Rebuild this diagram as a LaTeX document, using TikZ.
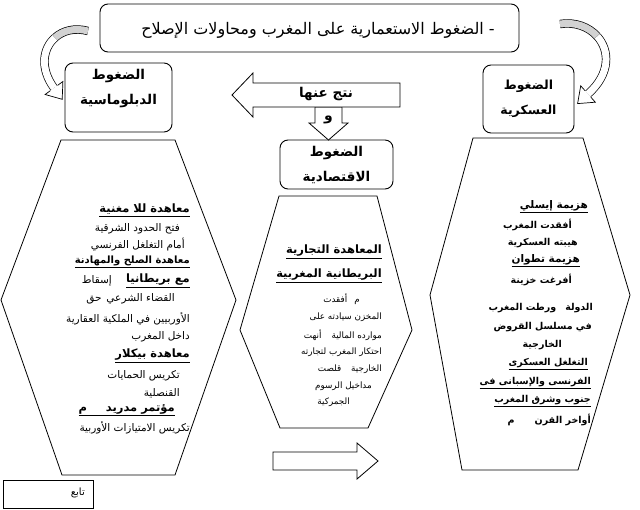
\documentclass[tikz,border=0pt]{standalone}
\usepackage{fontspec}
\TeXXeTstate=1
\newfontfamily\arabicfont[Script=Arabic]{DejaVu Sans}
\usetikzlibrary{calc}
\tikzset{
  box/.style={draw, rounded corners=8pt, line width=0.9pt, inner sep=0pt},
  ttl/.style={font=\arabicfont\fontsize{16}{18}\selectfont, inner sep=0pt},
  lbl/.style={font=\arabicfont\bfseries\fontsize{13.5}{25}\selectfont, align=center, inner sep=0pt},
  txt/.style={anchor=east, inner sep=0pt, font=\arabicfont\fontsize{10.5}{12}\selectfont},
  mtxt/.style={txt, font=\arabicfont\fontsize{8.8}{10}\selectfont},
  hd/.style={txt, font=\arabicfont\bfseries\fontsize{11.5}{13}\selectfont},
  rhd/.style={txt, font=\arabicfont\bfseries\fontsize{10.5}{12}\selectfont},
  rb/.style={txt, font=\arabicfont\bfseries\fontsize{9.5}{11}\selectfont},
  hexa/.style={draw, line width=0.8pt},
  blk/.style={draw, line width=0.8pt, fill=white},
  band/.style={line width=0.7pt, double distance=7pt},
}
\newcommand{\ar}[1]{\beginR#1\endR}
\newcommand{\arul}[1]{\underline{\beginR#1\endR}}

\begin{document}
\begin{tikzpicture}[x=1pt, y=-1pt]
  \useasboundingbox[fill=white] (0,0) rectangle (640,509);

  % boxes
  \node[box, minimum width=419pt, minimum height=48pt] (title) at (309.5,28) {};
  \node[ttl] (titlelbl) at (318,30) {\ar{- الضغوط الاستعمارية على المغرب ومحاولات الإصلاح}};
  \node[box, minimum width=107pt, minimum height=69pt] (dip) at (118.5,97.5) {};
  \node[lbl] (diplbl) at ($(dip.center)+(0,-9)$) {\ar{الضغوط}\\\ar{الدبلوماسية}};
  \node[box, lbl, font=\arabicfont\bfseries\fontsize{12.5}{25}\selectfont, minimum width=91pt, minimum height=68pt] (mil) at (528.5,99)
    {\ar{الضغوط}\\\ar{العسكرية}};
  \node[box, lbl, minimum width=113pt, minimum height=49pt] (eco) at (336.5,164.5)
    {\ar{الضغوط}\\\ar{الاقتصادية}};

  % curved arrows
  \coordinate (lt) at (88,31);
  \coordinate (lb) at (54,88);
  \draw[band, double=gray!35] (lt) .. controls (74.8,27.4) and (62.9,30.5) .. (54.9,37.7);
  \draw[band, double=white] (54.9,37.7) .. controls (42.8,48.4) and (39.6,68.2) .. (lb);
  \coordinate (la1) at (62.9,81.5);
  \coordinate (la2) at (45.1,94.5);
  \fill[white] (la1) -- (62.2,99.3) -- (la2) -- cycle;
  \draw[line width=0.7pt] ($(lb)!0.4!(la1)$) -- (la1) -- (62.2,99.3) -- (la2) -- ($(lb)!0.4!(la2)$);

  \coordinate (rt) at (560,24);
  \coordinate (rb) at (588,94);
  \draw[band, double=gray!35] (rt) .. controls (575.2,21.6) and (588.8,26.9) .. (597.2,36.3);
  \draw[band, double=white] (597.2,36.3) .. controls (609.8,50.3) and (610.8,73.6) .. (rb);
  \coordinate (ra1) at (595.3,102.2);
  \coordinate (ra2) at (580.7,85.8);
  \fill[white] (ra1) -- (577.6,103.6) -- (ra2) -- cycle;
  \draw[line width=0.7pt] ($(rb)!0.4!(ra1)$) -- (ra1) -- (577.6,103.6) -- (ra2) -- ($(rb)!0.4!(ra2)$);

  % block arrows
  \draw[blk] (315,107) -- (342,107) -- (342,123) -- (348,123) -- (328.5,140) -- (309,123) -- (315,123) -- cycle;
  \node[font=\arabicfont\bfseries\fontsize{14}{15}\selectfont, inner sep=0pt] (wa) at (328.5,120) {\ar{و}};
  \draw[blk] (400,83) -- (253,83) -- (253,73) -- (232,95) -- (253,117) -- (253,107) -- (400,107) -- cycle;
  \node[font=\arabicfont\bfseries\fontsize{13.5}{15}\selectfont, inner sep=0pt] (res) at (326,94) {\ar{نتج عنها}};
  \draw[blk] (273,452) -- (357,452) -- (357,443) -- (378,461) -- (357,479) -- (357,470) -- (273,470) -- cycle;

  % hexagons
  \draw[hexa] (61,140) -- (175,140) -- (236,300) -- (175,475) -- (62,475) -- (1,300) -- cycle;
  \draw[hexa] (279,196) -- (377,196) -- (412,330) -- (368,428) -- (280,428) -- (240,330) -- cycle;
  \draw[hexa] (473,138) -- (583,138) -- (630,295) -- (578,470) -- (462,470) -- (430,295) -- cycle;

  % left column
  \node[hd] (l1) at (190,210) {\arul{معاهدة للا مغنية}};
  \node[txt] (l2) at (180,229) {\ar{فتح الحدود الشرقية}};
  \node[txt] (l3) at (185,245) {\ar{أمام التغلغل الفرنسي}};
  \node[hd, font=\arabicfont\bfseries\fontsize{10}{12}\selectfont] (l4) at (190,262) {\arul{معاهدة الصلح والمهادنة}};
  \node[hd] (l5) at (190,281) {\arul{مع بريطانيا}};
  \node[txt] (l5b) at (112,281) {\ar{إسقاط}};
  \node[txt] (l6) at (175,299) {\ar{القضاء الشرعي\hspace{5pt}حق}};
  \node[txt] (l7) at (190,319) {\ar{الأوربيين في الملكية العقارية}};
  \node[txt] (l8) at (190,337) {\ar{داخل المغرب}};
  \node[hd] (l9) at (190,356) {\arul{معاهدة بيكلار}};
  \node[txt] (l10) at (180,376) {\ar{تكريس الحمايات}};
  \node[txt] (l11) at (180,393) {\ar{القنصلية}};
  \node[hd] (l12) at (175,410) {\arul{مؤتمر مدريد\hspace{19pt}م}};
  \node[txt] (l13) at (190,428) {\ar{تكريس الامتيازات الأوربية}};

  % middle column
  \node[hd] (m1) at (382,252) {\arul{المعاهدة التجارية}};
  \node[hd] (m2) at (382,276) {\arul{البريطانية المغربية}};
  \node[mtxt] (m3) at (360,299) {\ar{م\hspace{7pt}أفقدت}};
  \node[mtxt] (m4) at (382,317) {\ar{المخزن سيادته على}};
  \node[mtxt] (m5) at (382,335) {\ar{موارده المالية\hspace{10pt}أنهت}};
  \node[mtxt] (m6) at (382,352) {\ar{احتكار المغرب لتجارته}};
  \node[mtxt] (m7) at (382,369) {\ar{الخارجية\hspace{10pt}قلصت}};
  \node[mtxt] (m8) at (372,386) {\ar{مداخيل الرسوم}};
  \node[mtxt] (m9) at (350,402) {\ar{الجمركية}};

  % right column
  \node[rhd] (r1) at (588,207) {\arul{هزيمة إيسلي}};
  \node[rb] (r2) at (572,225) {\ar{أفقدت المغرب}};
  \node[rb] (r3) at (578,243) {\ar{هيبته العسكرية}};
  \node[rhd] (r4) at (580,261) {\arul{هزيمة تطوان}};
  \node[rb] (r5) at (572,280) {\ar{أفرغت خزينة}};
  \node[rb] (r6) at (593,308) {\ar{الدولة\hspace{9pt}ورطت المغرب}};
  \node[rb] (r7) at (592,327) {\ar{في مسلسل القروض}};
  \node[rb] (r8) at (562,345) {\ar{الخارجية}};
  \node[rb] (r9) at (588,364) {\arul{التغلغل العسكرى}};
  \node[rb] (r10) at (591,383) {\arul{الفرنسى والإسبانى فى}};
  \node[rb] (r11) at (591,401) {\arul{جنوب وشرق المغرب}};
  \node[rb] (r12) at (591,420) {\ar{أواخر القرن\hspace{20pt}م}};

  % next
  \node[draw, line width=0.7pt, minimum width=90pt, minimum height=28pt] (next) at (48,494) {};
  \node[txt, font=\arabicfont\fontsize{10}{12}\selectfont] (nextlbl) at (85,493) {\ar{تابع}};
\end{tikzpicture}
\end{document}
